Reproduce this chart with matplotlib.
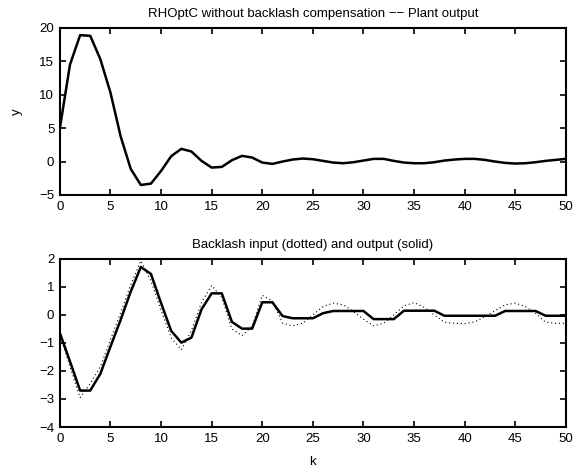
import matplotlib
matplotlib.use("Agg")
import matplotlib.pyplot as plt

plt.rcParams['font.family'] = ['Liberation Sans', 'DejaVu Sans']

k = list(range(51))

# plant output y(k)
plant_y = [5.0, 14.5, 18.9, 18.8, 15.3, 10.3, 3.8, -1.1, -3.5, -3.3,
           -1.4, 0.8, 1.9, 1.5, 0.1, -0.9, -0.8, 0.2, 0.85, 0.6,
           -0.15, -0.35, 0.0, 0.3, 0.45, 0.35, 0.1, -0.15, -0.25, -0.1,
           0.15, 0.4, 0.4, 0.1, -0.15, -0.25, -0.25, -0.1, 0.15, 0.3,
           0.4, 0.4, 0.25, 0.0, -0.2, -0.3, -0.25, -0.1, 0.1, 0.25, 0.4]

# backlash input (dotted)
bl_input = [-0.7, -1.85, -2.95, -2.45, -1.85, -0.88, 0.07, 1.08, 1.93, 1.21,
            0.17, -0.82, -1.24, -0.56, 0.45, 1.05, 0.62, -0.5, -0.74, -0.4,
            0.7, 0.5, -0.29, -0.39, -0.3, 0.0, 0.3, 0.42, 0.36, 0.12,
            -0.15, -0.39, -0.3, 0.0, 0.32, 0.44, 0.27, 0.0, -0.26, -0.3,
            -0.31, -0.25, -0.06, 0.15, 0.36, 0.42, 0.3, 0.06, -0.26, -0.3, -0.3]

# backlash output (solid)
bl_output = [-0.65, -1.66, -2.7, -2.7, -2.1, -1.13, -0.18, 0.83, 1.71, 1.46,
             0.42, -0.57, -0.99, -0.81, 0.2, 0.77, 0.77, -0.25, -0.49, -0.49,
             0.45, 0.45, -0.04, -0.12, -0.12, -0.12, 0.06, 0.14, 0.14, 0.14,
             0.14, -0.15, -0.15, -0.15, 0.15, 0.15, 0.15, 0.15, -0.03, -0.03,
             -0.03, -0.03, -0.03, -0.03, 0.14, 0.14, 0.14, 0.14, -0.03, -0.03, -0.03]

FS = 9.5

fig = plt.figure(figsize=(5.87, 4.71), dpi=100)
ax1 = fig.add_axes([0.102, 0.586, 0.862, 0.355])
ax2 = fig.add_axes([0.102, 0.0934, 0.862, 0.357])

def style(ax):
    ax.set_xlim(0, 50)
    ax.set_xticks(range(0, 51, 5))
    ax.tick_params(direction='in', top=True, right=True, length=4, width=1.2,
                   labelsize=FS, pad=4)
    for s in ax.spines.values():
        s.set_linewidth(1.5)

ax1.plot(k, plant_y, color='black', lw=1.8)
ax1.set_ylim(-5, 20)
ax1.set_yticks(range(-5, 21, 5))
ax1.set_ylabel('y', fontsize=FS, labelpad=12)
ax1.set_title('RHOptC without backlash compensation \u2212\u2212 Plant output', fontsize=FS, pad=8)
style(ax1)

ax2.plot(k, bl_input, color='black', lw=0.8, ls=(0, (1, 2.5)))
ax2.plot(k, bl_output, color='black', lw=1.8)
ax2.set_ylim(-4, 2)
ax2.set_yticks(range(-4, 3))
ax2.set_xlabel('k', fontsize=FS, labelpad=8)
ax2.set_title('Backlash input (dotted) and output (solid)', fontsize=FS, pad=8)
style(ax2)

fig.savefig('out.png', dpi=100)
